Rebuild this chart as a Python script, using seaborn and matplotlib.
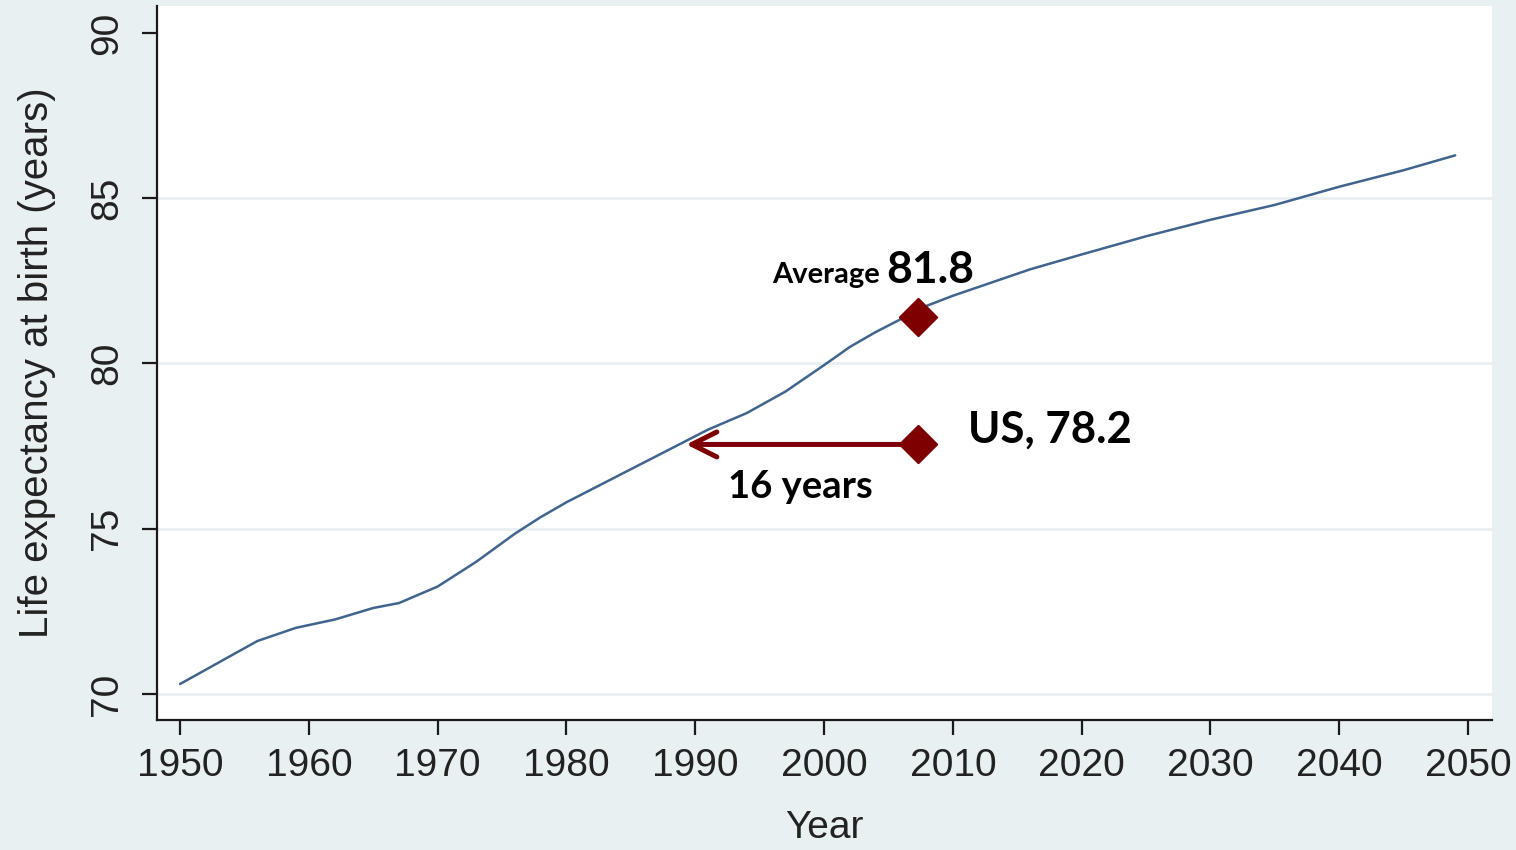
import numpy as np
import pandas as pd
import matplotlib
matplotlib.use("Agg")
import matplotlib.pyplot as plt
import seaborn as sns

# Life expectancy at birth
years = [1950, 1953, 1956, 1959, 1962, 1965, 1967, 1970, 1973, 1976,
         1978, 1980, 1982, 1985, 1988, 1991, 1994, 1997, 2000, 2002, 2004,
         2006, 2008, 2010, 2013, 2016, 2020, 2025, 2030, 2035, 2040,
         2045, 2049]
life_exp = [70.3, 70.95, 71.6, 72.0, 72.25, 72.6, 72.75, 73.25, 74.0, 74.85,
            75.35, 75.8, 76.2, 76.8, 77.4, 78.0, 78.5, 79.15, 79.95, 80.5, 80.95,
            81.35, 81.75, 82.05, 82.45, 82.85, 83.3, 83.85, 84.35, 84.8, 85.35,
            85.85, 86.3]

# highlighted points: average and US (plotted positions)
point_labels = ["Average", "US"]
point_year = [2007.3, 2007.3]
point_val = [81.4, 77.55]
arrow_to_year = 1989.3

xticks = [1950, 1960, 1970, 1980, 1990, 2000, 2010, 2020, 2030, 2040, 2050]
yticks = [70, 75, 80, 85, 90]

bg = "#e9f0f2"
dark_red = "#7f0000"
line_col = "#41648d"

sns.set_theme(style="white")
plt.rcParams["font.family"] = ["Liberation Sans", "DejaVu Sans"]

fig = plt.figure(figsize=(15.16, 8.5), dpi=100, facecolor=bg)
ax = fig.add_axes([157 / 1516, 1 - 720 / 850, (1492 - 157) / 1516, (720 - 6) / 850])
ax.set_facecolor("white")

df = pd.DataFrame({"year": years, "life": life_exp})
pts = pd.DataFrame({"label": point_labels, "year": point_year, "val": point_val})

# gridlines (none at the top tick)
ax.hlines(yticks[:-1], 1948.21, 2051.86, color=bg, lw=2, zorder=0)

sns.lineplot(data=df, x="year", y="life", ax=ax, color=line_col, lw=1.8, zorder=2)

ax.annotate("", xy=(arrow_to_year, point_val[1]), xytext=(point_year[1], point_val[1]),
            arrowprops=dict(arrowstyle="->, head_length=0.9, head_width=0.45",
                            color=dark_red, lw=3.6, mutation_scale=20,
                            shrinkA=0, shrinkB=0),
            zorder=3)

sns.scatterplot(data=pts, x="year", y="val", ax=ax, marker="D", s=360,
                color=dark_red, edgecolor=dark_red, zorder=4, legend=False)

ann_font = ["Lato", "DejaVu Sans"]
ax.text(2004.35, 82.44, "Average", fontsize=21, fontweight="bold", family=ann_font,
        ha="right", va="baseline", color="black")
ax.text(2004.81, 82.44, "81.8", fontsize=32, fontweight="bold", family=ann_font,
        ha="left", va="baseline", color="black")
ax.text(2011.18, 77.59, "US, 78.2", fontsize=31.5, fontweight="bold", family=ann_font,
        ha="left", va="baseline", color="black")
ax.text(1992.55, 75.93, "16 years", fontsize=27.5, fontweight="bold", family=ann_font,
        ha="left", va="baseline", color="black")

ax.set_xlim(1948.21, 2051.86)
ax.set_ylim(69.21, 90.82)
ax.set_xticks(xticks)
ax.set_yticks(yticks)
ax.set_xticklabels([str(t) for t in xticks])
ax.set_yticklabels([str(t) for t in yticks], rotation=90, va="center")

for side in ["top", "right"]:
    ax.spines[side].set_visible(False)
for side in ["left", "bottom"]:
    ax.spines[side].set_color("#1a1a1a")
    ax.spines[side].set_linewidth(1.6)

ax.tick_params(axis="both", direction="out", length=11, width=1.6, color="#1a1a1a",
               labelsize=28, labelcolor="#222222", bottom=True, left=True)
ax.tick_params(axis="x", pad=9)
ax.tick_params(axis="y", pad=12)

ax.set_xlabel("Year", fontsize=28, color="#222222", labelpad=19)
ax.set_ylabel("Life expectancy at birth (years)", fontsize=29, color="#222222", labelpad=24)

fig.savefig("out.png", dpi=100, facecolor=bg)
